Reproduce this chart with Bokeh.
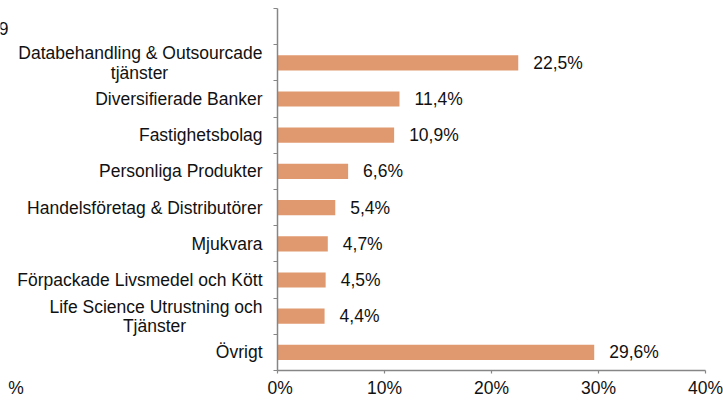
from bokeh.plotting import figure
from bokeh.layouts import row
from bokeh.models import Range1d, FixedTicker, ColumnDataSource
from bokeh.core.properties import value
from bokeh.embed import file_html
from bokeh.resources import INLINE

categories = ["Databehandling & Outsourcade\ntjänster", "Diversifierade Banker", "Fastighetsbolag",
              "Personliga Produkter", "Handelsföretag & Distributörer", "Mjukvara",
              "Förpackade Livsmedel och Kött", "Life Science Utrustning och\nTjänster", "Övrigt"]
values = [22.5, 11.4, 10.9, 6.6, 5.4, 4.7, 4.5, 4.4, 29.6]
value_labels = ["22,5%", "11,4%", "10,9%", "6,6%", "5,4%", "4,7%", "4,5%", "4,4%", "29,6%"]
x_ticks = [0, 10, 20, 30, 40]
x_tick_labels = ["0%", "10%", "20%", "30%", "40%"]
stray_top_text = "9"
stray_bottom_text = "%"

n_slots = len(categories) + 1  # one empty slot at the top
ypos = [len(categories) - i - 0.5 for i in range(len(categories))]

FONT = "Liberation Sans"
FS = "17.5px"
COLOR = "#E0996F"
AXIS_COLOR = "#868686"
TXT = "#111111"
H = 400
TOP = 8
BOTTOM = 27
LEFT_W = 267          # width of the label panel (pixels)
LABEL_RIGHT = 262     # right edge of category labels (pixels in label panel)
second_line_center = {0: 139, 7: 154}   # x-center of the 2nd line of wrapped labels


def style_xaxis(ax, ticks, overrides, visible=True):
    ax.ticker = FixedTicker(ticks=ticks, minor_ticks=[])
    ax.major_label_overrides = overrides
    ax.major_tick_out = 3
    ax.major_tick_in = 0
    ax.major_tick_line_color = AXIS_COLOR if visible else None
    ax.major_tick_line_width = 1.2
    ax.axis_line_color = AXIS_COLOR if visible else None
    ax.axis_line_width = 1.5
    ax.major_label_text_font = FONT
    ax.major_label_text_font_size = FS
    ax.major_label_text_color = TXT
    ax.major_label_standoff = 4


y_range = Range1d(0, n_slots)

# ---------- main chart ----------
p = figure(width=723 - LEFT_W, height=H, output_backend="svg", toolbar_location=None,
           x_range=Range1d(0, 40), y_range=y_range,
           min_border_left=10, min_border_right=18, min_border_top=TOP, min_border_bottom=BOTTOM)
p.outline_line_color = None
p.grid.visible = False
p.border_fill_color = "white"

src = ColumnDataSource(dict(y=ypos, v=values, lab=value_labels))
p.hbar(y="y", right="v", left=0, height=0.42, source=src, fill_color=COLOR, line_color=None)
p.text(x="v", y="y", text="lab", source=src, text_font=value(FONT), text_font_size=FS,
       x_offset=15, text_baseline="middle", text_align="left", text_color=TXT)

ya = p.yaxis[0]
ya.ticker = FixedTicker(ticks=[], minor_ticks=list(range(0, n_slots + 1)))
ya.major_label_text_font_size = "0px"
ya.major_label_standoff = 0
ya.major_tick_out = 0
ya.major_tick_in = 0
ya.minor_tick_out = 4
ya.minor_tick_in = 0
ya.minor_tick_line_color = AXIS_COLOR
ya.minor_tick_line_width = 1.2
ya.axis_line_color = AXIS_COLOR
ya.axis_line_width = 1.5

style_xaxis(p.xaxis[0], x_ticks, {t: l for t, l in zip(x_ticks, x_tick_labels)})

# ---------- label panel ----------
q = figure(width=LEFT_W, height=H, output_backend="svg", toolbar_location=None,
           x_range=Range1d(0, LEFT_W), y_range=y_range,
           min_border_left=0, min_border_right=0, min_border_top=TOP, min_border_bottom=BOTTOM)
q.outline_line_color = None
q.grid.visible = False
q.yaxis.visible = False
q.border_fill_color = "white"
style_xaxis(q.xaxis[0], [0], {0: stray_bottom_text}, visible=False)
q.xaxis[0].major_label_text_align = "right"

single = [(y, c) for y, c in zip(ypos, categories) if "\n" not in c]
q.text(x=[LABEL_RIGHT] * len(single), y=[y for y, _ in single], text=[c for _, c in single],
       text_font=value(FONT), text_font_size=FS, text_align="right", text_baseline="middle",
       text_color=TXT)
for i, (y, c) in enumerate(zip(ypos, categories)):
    if "\n" in c:
        l1, l2 = c.split("\n")
        q.text(x=[LABEL_RIGHT], y=[y], text=[l1], y_offset=-9.5, text_font=value(FONT),
               text_font_size=FS, text_align="right", text_baseline="middle", text_color=TXT)
        q.text(x=[second_line_center[i]], y=[y], text=[l2], y_offset=10, text_font=value(FONT),
               text_font_size=FS, text_align="center", text_baseline="middle", text_color=TXT)

q.text(x=[8], y=[n_slots - 0.55], text=[stray_top_text], text_font=value(FONT), text_font_size=FS,
       text_align="right", text_baseline="middle", text_color=TXT)

layout = row(q, p)
open("out.html", "w").write(file_html(layout, INLINE))
